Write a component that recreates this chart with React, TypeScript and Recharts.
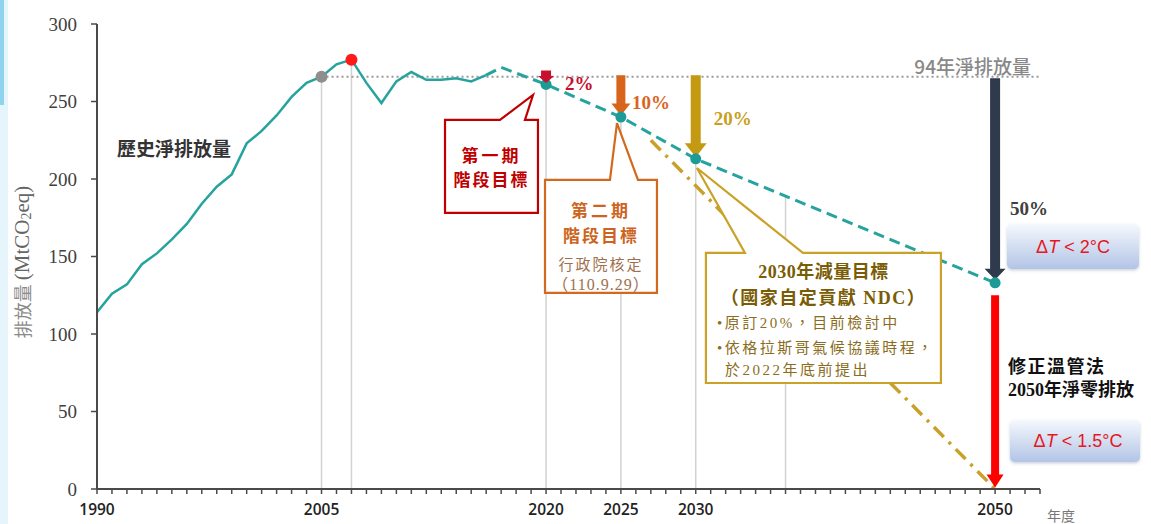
import React from "react";
import {
  ComposedChart,
  Line,
  XAxis,
  YAxis,
  ReferenceLine,
  ReferenceDot,
  ReferenceArea,
} from "recharts";

// historical net emissions, MtCO2eq
const histYears = [
  1990, 1991, 1992, 1993, 1994, 1995, 1996, 1997, 1998, 1999, 2000, 2001, 2002,
  2003, 2004, 2005, 2006, 2007, 2008, 2009, 2010, 2011, 2012, 2013, 2014, 2015,
  2016,
];
const histValues = [
  114, 126, 132, 145, 152, 161, 171, 184, 195, 203, 223, 231, 241, 253, 262, 266,
  274, 277, 262, 249, 263, 269, 264, 264, 265, 263, 267,
];

// reduction path (dashed)
const projYears = [2016, 2017, 2020, 2025, 2030, 2050];
const projValues = [267, 272, 261, 240, 213, 133];

// net-zero path (dash-dot)
const ndcYears = [2027, 2050];
const ndcValues = [225, 0];

const targetYears = [2020, 2025, 2030, 2050];
const targetValues = [261, 240, 213, 133];

const baseYear = 2005;
const baseValue = 266;
const peakYear = 2007;
const peakValue = 277;

const dropYears = [2005, 2007, 2020, 2025, 2030, 2036];
const dropValues = [266, 277, 261, 240, 213, 189];

const arrowYears = [2020, 2025, 2030, 2050];
const arrowFrom = [270, 267, 267, 265];
const arrowTo = [262, 241, 214, 135];
const arrowLabels = ["2%", "10%", "20%", "50%"];

const netZeroYear = 2050;
const netZeroFrom = 125;
const netZeroTo = 1;

const labeledYears = [1990, 2005, 2020, 2025, 2030, 2050];
const yTicks = [0, 50, 100, 150, 200, 250, 300];
const xTicks = Array.from({ length: 64 }, (_, i) => 1990 + i);

const histData = histYears.map((year, i) => ({ year, v: histValues[i] }));
const projData = projYears.map((year, i) => ({ year, v: projValues[i] }));
const ndcData = ndcYears.map((year, i) => ({ year, v: ndcValues[i] }));

const TEAL = "#27a39d";
const CJK = "'Noto Sans CJK TC', 'Noto Sans CJK SC', sans-serif";
const SERIF_CJK = "'Liberation Serif', 'Noto Sans CJK TC', serif";

const arrowStyles = [
  { color: "#c8102e", shaftW: 10, headW: 16, headL: 7, dx: 19, dy: 19, text: "#c8102e" },
  { color: "#d9651c", shaftW: 9, headW: 19, headL: 12, dx: 11, dy: 34, text: "#d9651c" },
  { color: "#c49a12", shaftW: 10, headW: 22, headL: 14, dx: 18, dy: 50, text: "#c8a020" },
  { color: "#2f3a4c", shaftW: 10, headW: 21, headL: 11, dx: 15, dy: 137, text: "#404040" },
];

function arrowPath(x: number, top: number, tip: number, sw: number, hw: number, hl: number) {
  const hs = tip - hl;
  return `M${x - sw / 2},${top} L${x + sw / 2},${top} L${x + sw / 2},${hs} L${x + hw / 2},${hs} L${x},${tip} L${x - hw / 2},${hs} L${x - sw / 2},${hs} Z`;
}

function makeArrow(st: any, label?: string) {
  return (p: any) => {
    const x = p.x1;
    const top = Math.min(p.y1, p.y2);
    const tip = Math.max(p.y1, p.y2);
    return (
      <g>
        <path d={arrowPath(x, top, tip, st.shaftW, st.headW, st.headL)} fill={st.color} />
        {label && (
          <text
            x={x + st.dx}
            y={top + st.dy}
            fill={st.text}
            fontFamily="'Liberation Serif', serif"
            fontWeight={700}
            fontSize={19}
          >
            {label}
          </text>
        )}
      </g>
    );
  };
}

type TextLine = {
  t: string;
  dy: number;
  size: number;
  weight: number;
  color: string;
  ls: number;
  dx?: number;
};

type Callout = {
  x1: number;
  x2: number;
  y1: number;
  y2: number;
  tipX: number;
  tipY: number;
  base1: number;
  base2: number;
  stroke: string;
  lines: TextLine[];
};

const callouts: Callout[] = [
  {
    x1: 2013.25, x2: 2019.46, y1: 178.1, y2: 238.1,
    tipX: 2019.13, tipY: 254.2, base1: 2016.92, base2: 2018.59,
    stroke: "#c00000",
    lines: [
      { t: "第一期", dy: 37, size: 17, weight: 700, color: "#c00000", ls: 3 },
      { t: "階段目標", dy: 61, size: 17, weight: 700, color: "#c00000", ls: 2 },
    ],
  },
  {
    x1: 2019.93, x2: 2027.41, y1: 126.5, y2: 199.4,
    tipX: 2024.74, tipY: 236.1, base1: 2024.27, base2: 2026.14,
    stroke: "#d2691e",
    lines: [
      { t: "第二期", dy: 32, size: 17, weight: 700, color: "#cc6420", ls: 3 },
      { t: "階段目標", dy: 57, size: 17, weight: 700, color: "#cc6420", ls: 2 },
      { t: "行政院核定", dy: 85, size: 15, weight: 400, color: "#a0704c", ls: 2 },
      { t: "（110.9.29）", dy: 105, size: 16, weight: 400, color: "#a0704c", ls: 1 },
    ],
  },
  {
    x1: 2030.68, x2: 2046.38, y1: 68.4, y2: 152.3,
    tipX: 2030.08, tipY: 207.1, base1: 2033.29, base2: 2037.16,
    stroke: "#c9a227",
    lines: [
      { t: "2030年減量目標", dy: 19, size: 18, weight: 700, color: "#7a5c05", ls: 0.5 },
      { t: "（國家自定貢獻 NDC）", dy: 45, size: 18, weight: 700, color: "#7a5c05", ls: 1.5 },
      { t: "•原訂20%，目前檢討中", dy: 70, size: 15, weight: 400, color: "#8a6d1c", ls: 2.5, dx: 11 },
      { t: "•依格拉斯哥氣候協議時程，", dy: 95, size: 15, weight: 400, color: "#8a6d1c", ls: 2.5, dx: 11 },
      { t: "於2022年底前提出", dy: 117, size: 15, weight: 400, color: "#8a6d1c", ls: 2.5, dx: 19 },
    ],
  },
];

function makeCallout(c: Callout) {
  return (p: any) => {
    const { x, y, width, height } = p;
    const fx = (yr: number) => x + ((yr - c.x1) / (c.x2 - c.x1)) * width;
    const fy = (v: number) => y + ((c.y2 - v) / (c.y2 - c.y1)) * height;
    const tx = fx(c.tipX);
    const ty = fy(c.tipY);
    const b1 = fx(c.base1);
    const b2 = fx(c.base2);
    const d = `M${x},${y} L${b1},${y} L${tx},${ty} L${b2},${y} L${x + width},${y} L${x + width},${y + height} L${x},${y + height} Z`;
    return (
      <g>
        <path d={d} fill="#fff" stroke={c.stroke} strokeWidth={2.2} strokeLinejoin="miter" />
        {c.lines.map((l) => (
          <text
            key={l.t}
            x={l.dx != null ? x + l.dx : x + width / 2}
            y={y + l.dy}
            textAnchor={l.dx != null ? "start" : "middle"}
            dominantBaseline="central"
            fontFamily={SERIF_CJK}
            fontSize={l.size}
            fontWeight={l.weight}
            fill={l.color}
            letterSpacing={l.ls}
          >
            {l.t}
          </text>
        ))}
      </g>
    );
  };
}

function Overlay() {
  return (
    <svg
      width={1151}
      height={524}
      style={{ position: "absolute", left: 0, top: 0, pointerEvents: "none" }}
    >
      <defs>
        <linearGradient id="tBox" x1="0" y1="0" x2="0" y2="1">
          <stop offset="0%" stopColor="#f5f8fd" />
          <stop offset="100%" stopColor="#b2c4e6" />
        </linearGradient>
        <filter id="soft" x="-10%" y="-20%" width="120%" height="150%">
          <feDropShadow dx="0" dy="1.5" stdDeviation="1.5" floodColor="#7080a0" floodOpacity="0.35" />
        </filter>
      </defs>
      <rect x={0} y={0} width={8} height={524} fill="#e6f4fb" />
      <rect x={0} y={0} width={4} height={105} fill="#8fd3ef" />

      <text
        transform="translate(22,262) rotate(-90)"
        textAnchor="middle"
        dominantBaseline="central"
      >
        <tspan fontFamily={CJK} fontSize={18} fill="#8a8a8a">排放量 </tspan>
        <tspan fontFamily="'Liberation Serif', serif" fontSize={21} fill="#666">(MtCO</tspan>
        <tspan fontFamily="'Liberation Serif', serif" fontSize={14} fill="#666" dy={4}>2</tspan>
        <tspan fontFamily="'Liberation Serif', serif" fontSize={21} fill="#666" dy={-4}>eq)</tspan>
      </text>

      <text x={117} y={147} dominantBaseline="central" fontFamily={CJK} fontWeight={700} fontSize={19} fill="#333">
        歷史淨排放量
      </text>
      <text x={1031} y={65} textAnchor="end" dominantBaseline="central" fontFamily={CJK} fontSize={19} fontWeight={500} fill="#888">
        94年淨排放量
      </text>

      <rect x={1007} y={224} width={132} height={45} rx={5} fill="url(#tBox)" filter="url(#soft)" />
      <text x={1073} y={247} textAnchor="middle" dominantBaseline="central" fontFamily="'Liberation Sans', sans-serif" fontSize={18} fill="#e5171f">
        Δ<tspan fontStyle="italic">T</tspan> {"< 2°C"}
      </text>
      <rect x={1010} y={420} width={130} height={42} rx={5} fill="url(#tBox)" filter="url(#soft)" />
      <text x={1078} y={441} textAnchor="middle" dominantBaseline="central" fontFamily="'Liberation Sans', sans-serif" fontSize={18} fill="#e5171f">
        Δ<tspan fontStyle="italic">T</tspan> {"< 1.5°C"}
      </text>

      <text x={1008} y={367} dominantBaseline="central" fontFamily={SERIF_CJK} fontWeight={700} fontSize={18} fill="#111" letterSpacing={1.5}>
        修正溫管法
      </text>
      <text x={1008} y={390} dominantBaseline="central" fontFamily={SERIF_CJK} fontWeight={700} fontSize={18} fill="#111">
        2050年淨零排放
      </text>

      <text x={1047} y={521} fontFamily={CJK} fontSize={14} fill="#777">
        年度
      </text>
    </svg>
  );
}

export default function App() {
  return (
    <div
      style={{
        position: "absolute",
        left: 0,
        top: 0,
        width: 1151,
        height: 524,
        background: "#fff",
        overflow: "hidden",
      }}
    >
      <ComposedChart
        width={1151}
        height={524}
        margin={{ top: 24, right: 111, bottom: 0, left: 0 }}
      >
        <XAxis
          type="number"
          dataKey="year"
          domain={[1990, 2053]}
          ticks={xTicks}
          interval={0}
          height={35}
          allowDataOverflow
          axisLine={{ stroke: "#4a4a4a", strokeWidth: 2 }}
          tickLine={{ stroke: "#4a4a4a", strokeWidth: 1.5 }}
          tickSize={5}
          tickMargin={10}
          tick={{ fill: "#222", fontSize: 15.5, fontWeight: 600, fontFamily: "'Open Sans', sans-serif" }}
          tickFormatter={(v: number) => (labeledYears.includes(v) ? String(v) : "")}
        />
        <YAxis
          type="number"
          domain={[0, 300]}
          ticks={yTicks}
          width={97}
          allowDataOverflow
          axisLine={{ stroke: "#4a4a4a", strokeWidth: 2 }}
          tickLine={{ stroke: "#4a4a4a", strokeWidth: 1.5 }}
          tickSize={6}
          tickMargin={14}
          tick={{ fill: "#404040", fontSize: 19, fontFamily: "'Liberation Serif', serif" }}
        />

        {dropYears.map((yr, i) => (
          <ReferenceLine
            key={"drop" + yr}
            segment={[{ x: yr, y: 0 }, { x: yr, y: dropValues[i] }]}
            stroke="#d2d2d2"
            strokeWidth={1.5}
            zIndex={50}
          />
        ))}
        <ReferenceLine
          segment={[{ x: baseYear, y: baseValue }, { x: 2053, y: baseValue }]}
          stroke="#9a9a9a"
          strokeWidth={2}
          strokeDasharray="2 3"
          zIndex={60}
        />

        <Line
          data={ndcData}
          dataKey="v"
          type="linear"
          stroke="#c8a02a"
          strokeWidth={3.5}
          strokeDasharray="14 7 3 7"
          dot={false}
          isAnimationActive={false}
        />
        <Line
          data={histData}
          dataKey="v"
          type="linear"
          stroke={TEAL}
          strokeWidth={2.5}
          dot={false}
          isAnimationActive={false}
        />
        <Line
          data={projData}
          dataKey="v"
          type="linear"
          stroke={TEAL}
          strokeWidth={3}
          strokeDasharray="11 6"
          dot={false}
          isAnimationActive={false}
        />

        {callouts.map((c, i) => (
          <ReferenceArea
            key={"callout" + i}
            x1={c.x1}
            x2={c.x2}
            y1={c.y1}
            y2={c.y2}
            ifOverflow="visible"
            zIndex={450}
            shape={makeCallout(c)}
          />
        ))}

        <ReferenceDot x={baseYear} y={baseValue} r={6} fill="#8e8e8e" stroke="none" zIndex={700} />
        <ReferenceDot x={peakYear} y={peakValue} r={6} fill="#ff1a1a" stroke="none" zIndex={700} />
        {targetYears.map((yr, i) => (
          <ReferenceDot
            key={"t" + yr}
            x={yr}
            y={targetValues[i]}
            r={5.5}
            fill="#1d9c96"
            stroke="none"
            zIndex={700}
          />
        ))}

        {arrowYears.map((yr, i) => (
          <ReferenceLine
            key={"arrow" + yr}
            segment={[{ x: yr, y: arrowFrom[i] }, { x: yr, y: arrowTo[i] }]}
            zIndex={i === 0 ? 800 : 460}
            shape={makeArrow(arrowStyles[i], arrowLabels[i])}
          />
        ))}
        <ReferenceLine
          segment={[{ x: netZeroYear, y: netZeroFrom }, { x: netZeroYear, y: netZeroTo }]}
          zIndex={460}
          shape={makeArrow({ color: "#ff0000", shaftW: 8, headW: 17, headL: 13 })}
        />
      </ComposedChart>
      <Overlay />
    </div>
  );
}
